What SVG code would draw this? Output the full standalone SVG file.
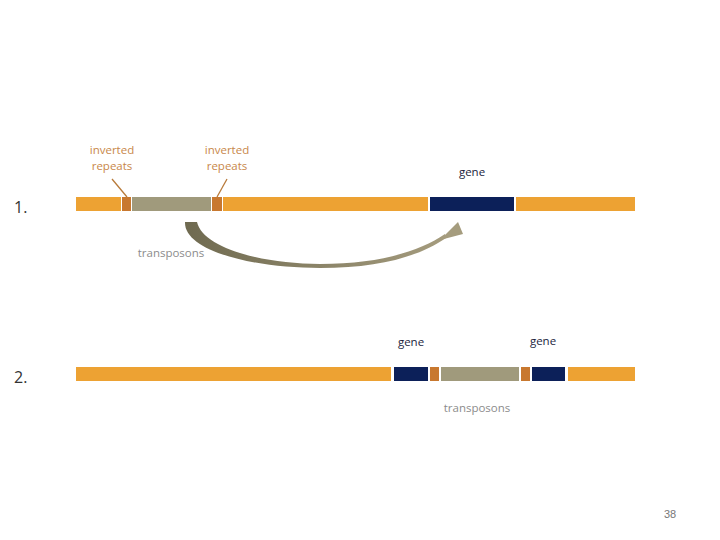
<svg xmlns="http://www.w3.org/2000/svg" width="720" height="540" viewBox="0 0 720 540">
<style>
.or{fill:#eda233}.nv{fill:#0c2059}.br{fill:#c8782f}.gy{fill:#a09a7c}
.lab{font-family:"Open Sans","Liberation Sans",sans-serif;font-size:11.5px;text-anchor:middle}
.inv{fill:#c8874a}.gene{fill:#1a2540}.tp{fill:#8c8c8c}
.num{font-family:"Open Sans","Liberation Sans",sans-serif;font-size:16px;fill:#333}
</style>
<defs>
<linearGradient id="ag" x1="0" y1="0" x2="1" y2="0">
<stop offset="0" stop-color="#6f6a50"/><stop offset="1" stop-color="#a59c7e"/>
</linearGradient>
</defs>
<rect width="720" height="540" fill="#fff"/>
<g id="row1">
<rect class="or" x="76" y="197" width="45" height="14"/>
<rect class="br" x="122" y="197" width="9" height="14"/>
<rect class="gy" x="132" y="197" width="79" height="14"/>
<rect class="br" x="212" y="197" width="10" height="14"/>
<rect class="or" x="223" y="197" width="205" height="14"/>
<rect class="nv" x="430" y="197" width="84" height="14"/>
<rect class="or" x="516" y="197" width="119" height="14"/>
</g>
<g id="row2">
<rect class="or" x="76" y="367" width="315" height="14"/>
<rect class="nv" x="394" y="367" width="34" height="14"/>
<rect class="br" x="430" y="367" width="9" height="14"/>
<rect class="gy" x="441" y="367" width="78" height="14"/>
<rect class="br" x="521" y="367" width="9" height="14"/>
<rect class="nv" x="532" y="367" width="33" height="14"/>
<rect class="or" x="568" y="367" width="67" height="14"/>
</g>
<g id="connectors">
<line x1="112" y1="179" x2="127" y2="197" stroke="#b87a3a" stroke-width="1.3"/>
<line x1="227" y1="179" x2="217" y2="197" stroke="#b87a3a" stroke-width="1.3"/>
<path d="M185,222 C184,250 250,268 320,268 C380,268 420,256 446,238 L445,234 C420,251 380,264 320,264 C262,264 203,248 197,222 Z" fill="url(#ag)"/>
<polygon points="440,240 458,222 463,234" fill="#a59c7e"/>
</g>
<g id="labels">
<text class="lab inv" x="112" y="154">inverted</text>
<text class="lab inv" x="112" y="170">repeats</text>
<text class="lab inv" x="227" y="154">inverted</text>
<text class="lab inv" x="227" y="170">repeats</text>
<text class="lab gene" x="472" y="176">gene</text>
<text class="lab tp" x="171" y="257">transposons</text>
<text class="lab gene" x="411" y="346">gene</text>
<text class="lab gene" x="543" y="345">gene</text>
<text class="lab tp" x="477" y="412">transposons</text>
<text class="num" x="14" y="213">1.</text>
<text class="num" x="14" y="383">2.</text>
<text x="670" y="518" font-family="Liberation Sans,sans-serif" font-size="11" fill="#777" text-anchor="middle">38</text>
</g>
</svg>
